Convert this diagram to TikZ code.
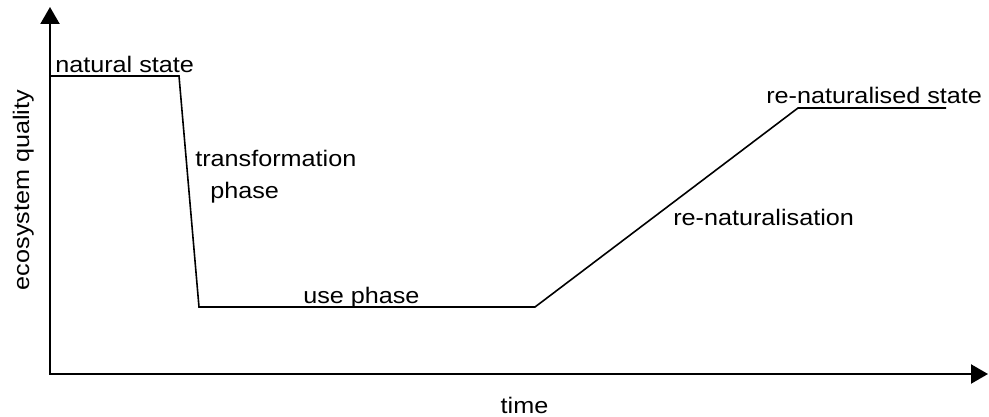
\documentclass[tikz,border=0pt]{standalone}
\usepackage{fontspec}
\setmainfont{Liberation Sans}[FakeStretch=1.12]
\usetikzlibrary{arrows.meta,positioning}

\begin{document}
\begin{tikzpicture}[
  x=0.25mm, y=0.25mm,
  axis/.style={line width=0.55mm, {Triangle[length=4.25mm, width=4.75mm]}-{Triangle[length=4.25mm, width=4.75mm]}},
  curve/.style={line width=0.4mm, line join=miter},
  lbl/.style={inner sep=0pt, anchor=base west, font=\fontsize{16}{19}\selectfont}
]
\useasboundingbox (0,0) rectangle (989,416);

\coordinate (o) at (50,42);
\coordinate (ytip) at (50,409);
\coordinate (xtip) at (988,42);
\draw[axis] (ytip) -- (o) -- (xtip);

\coordinate (p1) at (50,340);
\coordinate (p2) at (179,340);
\coordinate (p3) at (199,109);
\coordinate (p4) at (535,109);
\coordinate (p5) at (798,308);
\coordinate (p6) at (946,308);
\draw[curve] (p1) -- (p2) -- (p3) -- (p4) -- (p5) -- (p6);

\node[lbl] (natural) at (55,343.5) {natural state};
\node[lbl] (transf) at (195,249.3) {transformation};
\node[lbl] (phase) at (210,218) {phase};
\node[lbl] (use) at (303,113) {use phase};
\node[lbl] (renat) at (673,191) {re-naturalisation};
\node[lbl] (restate) at (766,312.7) {re-naturalised state};
\node[lbl, anchor=base] (time) at (524.5,3) {time};
\node[lbl, anchor=base, rotate=90] (quality) at (29,226) {ecosystem quality};
\end{tikzpicture}
\end{document}
